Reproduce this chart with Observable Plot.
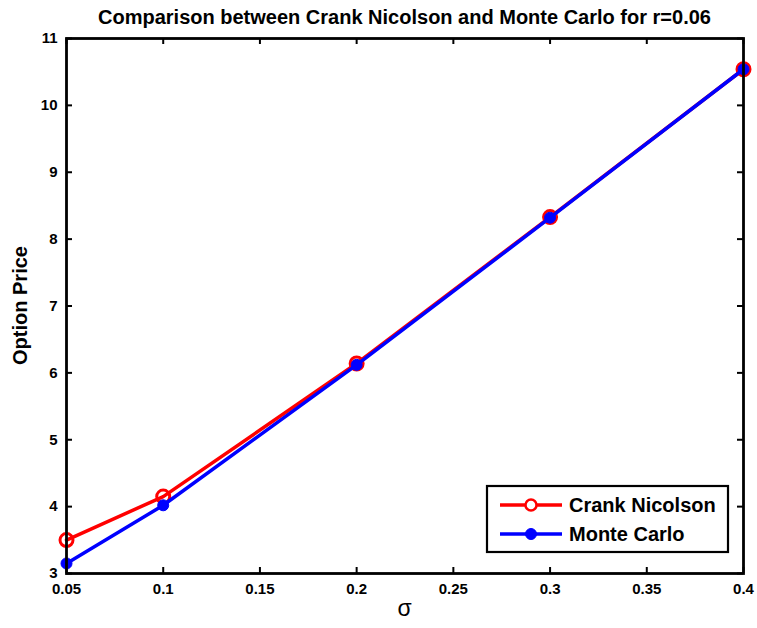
<!DOCTYPE html>
<html><head><meta charset="utf-8">
<script src="https://cdn.jsdelivr.net/npm/d3@7"></script>
<script src="https://cdn.jsdelivr.net/npm/@observablehq/plot@0.6"></script>
<style>body{margin:0;background:#fff;} #c{width:757px;height:628px;} #c svg g[aria-label$="tick label"] text{font-weight:bold;font-size:15px;}</style>
</head><body><div id="c"></div>
<script>
const sigma = [0.05, 0.1, 0.2, 0.3, 0.4];
const crankNicolson = [3.50, 4.15, 6.14, 8.33, 10.54];
const monteCarlo = [3.15, 4.02, 6.12, 8.32, 10.54];
const xTicks = [0.05, 0.1, 0.15, 0.2, 0.25, 0.3, 0.35, 0.4];
const yTicks = [3, 4, 5, 6, 7, 8, 9, 10, 11];
const titleText = "Comparison between Crank Nicolson and Monte Carlo for r=0.06";
const xLabel = "σ";
const yLabel = "Option Price";
const seriesNames = ["Crank Nicolson", "Monte Carlo"];

const W = 757, H = 628, mL = 66, mR = 14, mT = 38, mB = 55;
const iw = W - mL - mR, ih = H - mT - mB;
const cn = sigma.map((s, i) => ({s, v: crankNicolson[i]}));
const mc = sigma.map((s, i) => ({s, v: monteCarlo[i]}));
const font = "'Liberation Sans', Arial, Helvetica, sans-serif";

const chart = Plot.plot({
  width: W, height: H,
  marginLeft: mL, marginRight: mR, marginTop: mT, marginBottom: mB,
  style: {fontFamily: font, fontSize: "15px", fontWeight: "bold", background: "#fff", color: "#000"},
  x: {domain: [0.05, 0.4]},
  y: {domain: [3, 11]},
  marks: [
    Plot.axisX(xTicks, {tickSize: 0, tickPadding: 10, tickFormat: d => String(d), label: null}),
    Plot.axisY(yTicks, {tickSize: 0, tickPadding: 9, tickFormat: d => String(d), label: null}),
    Plot.tickX(xTicks, {x: d => d, insetTop: ih - 6, stroke: "#000", strokeWidth: 2}),
    Plot.tickX(xTicks, {x: d => d, insetBottom: ih - 6, stroke: "#000", strokeWidth: 2}),
    Plot.tickY(yTicks, {y: d => d, insetRight: iw - 6, stroke: "#000", strokeWidth: 2}),
    Plot.tickY(yTicks, {y: d => d, insetLeft: iw - 6, stroke: "#000", strokeWidth: 2}),
    Plot.line(cn, {x: "s", y: "v", stroke: "#ff0000", strokeWidth: 3.5}),
    Plot.dot(cn, {x: "s", y: "v", r: 6.5, stroke: "#ff0000", strokeWidth: 3, fill: "none"}),
    Plot.line(mc, {x: "s", y: "v", stroke: "#0000ff", strokeWidth: 3.5}),
    Plot.dot(mc, {x: "s", y: "v", r: 5.5, fill: "#0000ff", stroke: "#0000ff", strokeWidth: 1}),
    Plot.frame({stroke: "#000", strokeWidth: 2.8})
  ]
});
document.getElementById("c").appendChild(chart);

const svg = d3.select(chart);
function txt(x, y, s, size, bold, anchor) {
  return svg.append("text").attr("x", x).attr("y", y).attr("text-anchor", anchor)
    .style("font-family", font).style("font-size", size + "px")
    .style("font-weight", bold ? "bold" : "normal").text(s);
}
txt(mL + iw / 2, 24, titleText, 20, true, "middle");
txt(mL + iw / 2, 616, xLabel, 23, false, "middle");
txt(0, 0, yLabel, 20, true, "middle").attr("x", null).attr("y", null)
  .attr("transform", `translate(27,${mT + ih / 2}) rotate(-90)`);

// legend
const lg = svg.append("g");
lg.append("rect").attr("x", 487).attr("y", 486).attr("width", 241).attr("height", 66)
  .attr("fill", "#fff").attr("stroke", "#000").attr("stroke-width", 2.2);
const rows = [
  {name: seriesNames[0], color: "#ff0000", open: true, y: 505},
  {name: seriesNames[1], color: "#0000ff", open: false, y: 534}
];
rows.forEach(r => {
  lg.append("line").attr("x1", 500).attr("x2", 562).attr("y1", r.y).attr("y2", r.y)
    .attr("stroke", r.color).attr("stroke-width", 3.5);
  lg.append("circle").attr("cx", 531).attr("cy", r.y).attr("r", 5.5)
    .attr("fill", r.open ? "#fff" : r.color).attr("stroke", r.color).attr("stroke-width", r.open ? 2.5 : 1);
  lg.append("text").attr("x", 569).attr("y", r.y).attr("dy", "0.36em").attr("text-anchor", "start")
    .style("font-family", font).style("font-size", "20px").style("font-weight", "bold").text(r.name);
});
</script>
</body></html>
